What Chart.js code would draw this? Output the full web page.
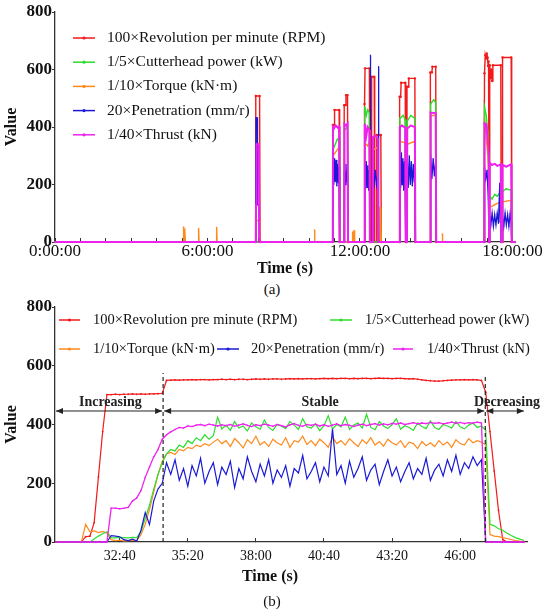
<!DOCTYPE html>
<html>
<head>
<meta charset="utf-8">
<script src="https://cdn.jsdelivr.net/npm/chart.js@4.4.1/dist/chart.umd.min.js"></script>
<style>
  body { margin: 0; background: #fff; }
  #page { position: relative; width: 550px; height: 614px; font-family: "Liberation Serif", "Times New Roman", serif; color: #111; }
  .box { position: absolute; left: 0; width: 550px; }
  .cap { position: absolute; transform: translate(-50%, -50%); white-space: nowrap; }
</style>
</head>
<body>
<div id="page">
  <div class="box" style="top:0;height:280px"><canvas id="chartA" width="550" height="280"></canvas></div>
  <div class="cap" style="left:272px;top:289px;font-size:15px">(a)</div>
  <div class="box" style="top:295px;height:300px"><canvas id="chartB" width="550" height="300"></canvas></div>
  <div class="cap" style="left:270px;top:576px;font-size:16px;font-weight:bold">Time (s)</div>
  <div class="cap" style="left:272px;top:601px;font-size:15px">(b)</div>
</div>
<script>
// ---- Panel (a): whole day, [hour, value] pairs ----
const tickHoursA = [0, 6, 12, 18];
const tickLabelsA = ['0:00:00', '6:00:00', '12:00:00', '18:00:00'];

const rpmA = [
  [0, 0], [7.88, 0], [7.9, 508], [8.05, 508], [8.07, 0],
  [10.92, 0], [10.93, 407], [10.98, 407], [11.0, 459], [11.18, 459], [11.2, 0],
  [11.37, 0], [11.38, 476], [11.43, 476], [11.45, 511], [11.51, 511], [11.53, 0],
  [12.17, 0], [12.18, 480], [12.2, 604], [12.37, 604], [12.39, 0],
  [12.45, 0], [12.46, 575], [12.56, 575], [12.58, 0],
  [12.65, 0], [12.66, 372], [12.82, 372], [12.84, 0],
  [13.55, 0], [13.56, 505], [13.6, 505], [13.62, 554], [13.78, 554], [13.8, 0],
  [13.84, 0], [13.85, 540], [13.9, 540], [13.92, 569], [14.16, 569], [14.18, 0],
  [14.76, 0], [14.77, 590], [14.83, 590], [14.85, 610], [14.98, 610], [15.0, 0],
  [16.88, 0], [16.9, 587], [16.93, 650], [16.96, 638], [16.99, 656], [17.02, 642], [17.04, 612], [17.06, 628], [17.08, 0],
  [17.1, 0], [17.11, 615], [17.14, 570], [17.17, 600], [17.2, 560], [17.23, 615], [17.54, 615], [17.56, 0],
  [17.6, 0], [17.61, 642], [17.95, 642], [17.97, 0], [18.1, 0]
];
const powerA = [
  [0, 0],
  [10.93, 0], [10.94, 320], [11.0, 335], [11.05, 345], [11.1, 355], [11.18, 365], [11.2, 0],
  [11.38, 0], [11.39, 390], [11.51, 400], [11.53, 0],
  [12.18, 0], [12.19, 470], [12.25, 440], [12.3, 460], [12.37, 450], [12.39, 0],
  [13.56, 0], [13.57, 430], [13.7, 440], [13.78, 425], [13.8, 0],
  [13.85, 0], [13.86, 420], [14.0, 440], [14.16, 430], [14.18, 0],
  [14.77, 0], [14.78, 480], [14.9, 495], [14.98, 485], [15.0, 0],
  [16.89, 0], [16.9, 470], [16.97, 440], [17.03, 380], [17.07, 250], [17.1, 160], [17.2, 150], [17.3, 165], [17.4, 160], [17.54, 175], [17.56, 0],
  [17.6, 0], [17.61, 175], [17.75, 185], [17.95, 180], [17.97, 0], [18.1, 0]
];
const torqueA = [
  [0, 0], [5.05, 0], [5.06, 52], [5.08, 0], [5.1, 0], [5.11, 45], [5.13, 0],
  [5.64, 0], [5.65, 47], [5.67, 0], [6.35, 0], [6.36, 50], [6.38, 0],
  [7.88, 0], [7.9, 75], [8.03, 75], [8.05, 0], [10.2, 0], [10.21, 42], [10.23, 0],
  [10.93, 0], [10.94, 300], [11.18, 330], [11.2, 0],
  [11.7, 0], [11.71, 35], [11.73, 0], [11.76, 0], [11.77, 40], [11.79, 0],
  [12.18, 0], [12.19, 345], [12.3, 335], [12.37, 350], [12.39, 0],
  [12.5, 0], [12.51, 320], [12.7, 330], [12.72, 0], [12.78, 0], [12.79, 120], [12.82, 80], [12.84, 0],
  [13.56, 0], [13.57, 350], [13.78, 345], [13.8, 0], [13.85, 0], [13.86, 340], [14.16, 350], [14.18, 0],
  [14.77, 0], [14.78, 440], [14.98, 440], [15.0, 0], [15.23, 0], [15.24, 28], [15.26, 0],
  [16.89, 0], [16.9, 430], [17.03, 300], [17.07, 200], [17.1, 120], [17.3, 130], [17.54, 140], [17.56, 0],
  [17.6, 0], [17.61, 140], [17.95, 145], [17.97, 0], [18.1, 0]
];
const penetrationA = [
  [0, 0], [7.9, 0], [7.91, 432], [7.96, 432], [7.97, 130], [8.02, 130], [8.04, 0],
  [10.93, 0], [10.94, 280], [10.97, 200], [11.0, 290], [11.03, 210], [11.06, 285], [11.09, 195], [11.12, 270], [11.15, 205], [11.18, 260], [11.2, 0],
  [11.38, 0], [11.39, 250], [11.42, 200], [11.45, 270], [11.48, 210], [11.51, 240], [11.53, 0],
  [12.18, 0], [12.19, 270], [12.22, 185], [12.25, 280], [12.28, 190], [12.31, 265], [12.34, 180], [12.37, 250], [12.4, 0], [12.41, 650], [12.42, 0],
  [12.5, 0], [12.51, 240], [12.55, 190], [12.6, 250], [12.65, 200], [12.7, 235], [12.72, 0], [12.73, 610], [12.74, 0],
  [13.56, 0], [13.57, 300], [13.6, 190], [13.63, 310], [13.66, 200], [13.69, 290], [13.72, 180], [13.75, 280], [13.78, 220], [13.8, 0],
  [13.85, 0], [13.86, 290], [13.9, 190], [13.94, 300], [13.98, 200], [14.02, 280], [14.06, 195], [14.1, 270], [14.14, 210], [14.16, 250], [14.18, 0],
  [14.77, 0], [14.78, 300], [14.83, 220], [14.88, 290], [14.93, 230], [14.98, 280], [15.0, 0],
  [16.89, 0], [16.9, 260], [16.95, 220], [17.0, 250], [17.05, 150], [17.08, 0],
  [17.1, 0], [17.11, 90], [17.15, 60], [17.2, 100], [17.25, 55], [17.3, 95], [17.35, 60], [17.4, 100], [17.45, 65], [17.5, 205], [17.52, 70], [17.54, 95], [17.56, 0],
  [17.6, 0], [17.61, 90], [17.66, 55], [17.71, 100], [17.76, 60], [17.81, 95], [17.86, 55], [17.91, 100], [17.95, 70], [17.97, 0], [18.1, 0]
];
const thrustA = [
  [0, 0], [7.9, 0], [7.91, 130], [7.93, 340], [8.02, 340], [8.04, 0],
  [10.93, 0], [10.94, 400], [10.98, 395], [11.05, 405], [11.12, 398], [11.18, 402], [11.2, 0],
  [11.38, 0], [11.39, 410], [11.45, 405], [11.51, 412], [11.53, 0],
  [12.18, 0], [12.19, 410], [12.25, 370], [12.3, 400], [12.37, 390], [12.39, 0],
  [12.5, 0], [12.51, 365], [12.6, 370], [12.7, 360], [12.72, 0],
  [13.56, 0], [13.57, 400], [13.65, 405], [13.78, 398], [13.8, 0],
  [13.85, 0], [13.86, 395], [14.0, 405], [14.16, 400], [14.18, 0],
  [14.77, 0], [14.78, 450], [14.98, 448], [15.0, 0],
  [16.89, 0], [16.9, 413], [16.97, 410], [17.03, 350], [17.07, 300], [17.08, 0],
  [17.1, 0], [17.11, 275], [17.2, 268], [17.3, 272], [17.4, 265], [17.54, 270], [17.56, 0],
  [17.6, 0], [17.61, 268], [17.75, 262], [17.95, 270], [17.97, 0], [18.1, 0]
];

// ---- Panel (b): one excavation cycle, seconds ----
const tickSecondsB = [1960, 2120, 2280, 2440, 2600, 2760];
const tickLabelsB = ['32:40', '35:20', '38:00', '40:40', '43:20', '46:00'];
const timeB = [
  1810, 1820, 1830, 1840, 1850, 1860, 1870, 1880, 1890, 1900,
  1910, 1920, 1930, 1940, 1950, 1960, 1970, 1980, 1990, 2000,
  2010, 2020, 2030, 2040, 2050, 2060, 2070, 2080, 2090, 2100,
  2110, 2120, 2130, 2140, 2150, 2160, 2170, 2180, 2190, 2200,
  2210, 2220, 2230, 2240, 2250, 2260, 2270, 2280, 2290, 2300,
  2310, 2320, 2330, 2340, 2350, 2360, 2370, 2380, 2390, 2400,
  2410, 2420, 2430, 2440, 2450, 2460, 2470, 2480, 2490, 2500,
  2510, 2520, 2530, 2540, 2550, 2560, 2570, 2580, 2590, 2600,
  2610, 2620, 2630, 2640, 2650, 2660, 2670, 2680, 2690, 2700,
  2710, 2720, 2730, 2740, 2750, 2760, 2770, 2780, 2790, 2800,
  2810, 2820, 2830, 2840, 2850, 2860, 2870, 2880, 2890, 2900,
  2910
];
const rpmB = [
  0, 0, 0, 0, 0, 0, 0, 18, 20, 66,
  221, 376, 502, 502, 503, 502, 503, 503, 504, 503,
  504, 503, 504, 504, 505, 506, 550, 551, 552, 551,
  552, 552, 553, 552, 553, 553, 552, 553, 553, 554,
  553, 554, 553, 554, 554, 553, 554, 555, 554, 555,
  554, 555, 555, 554, 555, 556, 555, 556, 555, 556,
  556, 555, 556, 557, 556, 557, 556, 557, 557, 556,
  557, 556, 557, 557, 556, 557, 558, 557, 557, 556,
  557, 557, 556, 555, 556, 554, 552, 550, 549, 548,
  548, 549, 550, 551, 552, 552, 553, 552, 553, 552,
  550, 510, 376, 242, 108, 8, 0, 0, 0, 0,
  0
];
const powerB = [
  0, 0, 0, 0, 0, 0, 0, 0, 0, 10,
  20, 28, 35, 15, 14, 16, 15, 14, 16, 15,
  35, 80, 125, 180, 230, 270, 300, 315, 310, 330,
  322, 345, 335, 355, 345, 365, 350, 362, 425, 385,
  398, 380, 410, 388, 395, 378, 405, 392, 384, 415,
  390, 380, 400, 395, 386, 410, 398, 383, 420, 392,
  388, 402, 379, 396, 430, 385, 400, 392, 425, 383,
  398, 405, 388, 435, 390, 382, 410, 395, 386, 400,
  420, 384, 396, 390, 380, 405, 393, 386, 412, 390,
  383, 400, 395, 388, 410, 392, 385, 398, 405, 390,
  395, 380, 60, 55, 45, 40, 30, 22, 15, 10,
  5
];
const torqueB = [
  0, 0, 0, 0, 0, 0, 0, 60, 35, 38,
  32, 36, 30, 8, 5, 6, 4, 5, 6, 5,
  25, 60, 110, 170, 230, 275, 300, 305, 298, 315,
  310, 322, 318, 330, 325, 335, 328, 340, 350, 335,
  345, 325, 352, 338, 320, 348, 335, 360, 330, 342,
  325, 350, 338, 330, 355, 322, 345, 340, 360, 332,
  345, 328, 350, 338, 322, 358, 335, 345, 330, 352,
  338, 325, 348, 335, 355, 330, 342, 326, 350, 338,
  330, 345, 322, 340, 335, 318, 342, 328, 338, 325,
  345, 330, 340, 322, 348, 335, 330, 352, 338, 345,
  340, 330, 25, 20, 18, 15, 12, 8, 5, 3,
  2
];
const penetrationB = [
  0, 0, 0, 0, 0, 0, 0, 0, 0, 0,
  0, 0, 0, 22, 20, 18, 8, 5, 10, 3,
  40, 100, 60, 140, 180, 200, 270, 230, 280, 210,
  250, 190, 260, 225, 285, 200, 240, 270, 195, 255,
  230, 275, 185, 250, 215, 290, 240, 205, 265, 225,
  280, 200, 245, 220, 260, 190, 250, 235, 295, 215,
  240, 270, 205, 255, 225, 385, 230, 260, 200, 275,
  220, 250, 290, 210, 245, 265, 195, 240, 280, 225,
  255, 205, 240, 270, 215, 250, 230, 285, 210, 245,
  265, 225, 280, 240, 295, 230, 270, 250, 290, 260,
  280, 0, 0, 0, 0, 0, 0, 0, 0, 0,
  0
];
const thrustB = [
  0, 0, 0, 0, 0, 0, 0, 0, 0, 0,
  0, 0, 0, 115, 115, 113, 115, 118, 140, 150,
  175, 220, 255, 290, 315, 350, 365, 375, 383, 390,
  388, 395, 393, 398, 400, 396, 401, 398, 395, 399,
  396, 400, 394, 398, 402, 397, 393, 399, 396, 401,
  398, 394, 400, 396, 392, 399, 403, 397, 394, 400,
  397, 401, 395, 399, 394, 398, 402, 396, 400, 397,
  393, 398, 401, 396, 400, 403, 398, 402, 399, 404,
  401, 405, 400, 403, 406, 402, 405, 403, 407, 404,
  406, 402, 405, 408, 404, 407, 403, 406, 405, 408,
  405, 0, 0, 0, 0, 0, 0, 0, 0, 0,
  0
];

// phase annotation of panel (b)
const phaseEdges = [2062, 2819];
const phaseTops = [575, 565];
const phaseArrowLevel = 446;
const phaseArrowEnd = 2912;
const phaseNames = ['Increasing', 'Stable', 'Decreasing'];
const phaseNameTimes = [1938, 2431, 2870];

const SERIF = '"Liberation Serif", "Times New Roman", serif';
Chart.defaults.font.family = SERIF;
Chart.defaults.color = '#111';
Chart.defaults.animation = false;

const RED = '#f21a1a', GREEN = '#2fdc2f', ORANGE = '#ff8a1c', BLUE = '#1a1ad6', MAGENTA = '#ee22ee';

// legend drawn inside the plot, at fixed spots
const insideLegend = {
  id: 'insideLegend',
  afterDraw(chart, args, opts) {
    const ctx = chart.ctx;
    ctx.save();
    ctx.font = `${opts.size}px ${SERIF}`;
    ctx.textBaseline = 'middle';
    opts.items.forEach(it => {
      const ds = chart.data.datasets[it.ds];
      ctx.strokeStyle = ds.borderColor;
      ctx.lineWidth = 1.5;
      ctx.beginPath();
      ctx.moveTo(it.x, it.y);
      ctx.lineTo(it.x + it.len, it.y);
      ctx.stroke();
      ctx.fillStyle = ds.borderColor;
      ctx.beginPath();
      ctx.arc(it.x + it.len / 2, it.y, 1.6, 0, Math.PI * 2);
      ctx.fill();
      ctx.fillStyle = '#111';
      ctx.fillText(ds.label, it.textX, it.y);
    });
    ctx.restore();
  }
};

function arrowHead(ctx, px, py, dir) {
  ctx.beginPath();
  ctx.moveTo(px, py);
  ctx.lineTo(px - dir * 7, py - 3);
  ctx.lineTo(px - dir * 7, py + 3);
  ctx.closePath();
  ctx.fill();
}

const phasePlugin = {
  id: 'phases',
  afterDatasetsDraw(chart) {
    const { ctx, chartArea, scales: { x, y } } = chart;
    const ay = y.getPixelForValue(phaseArrowLevel);
    ctx.save();
    ctx.strokeStyle = '#222';
    ctx.fillStyle = '#222';
    ctx.lineWidth = 1.2;
    ctx.setLineDash([4, 3]);
    phaseEdges.forEach((t, i) => {
      const px = x.getPixelForValue(t);
      ctx.beginPath();
      ctx.moveTo(px, y.getPixelForValue(0));
      ctx.lineTo(px, y.getPixelForValue(phaseTops[i]));
      ctx.stroke();
    });
    ctx.setLineDash([]);
    ctx.lineWidth = 1;
    const ends = [chartArea.left, x.getPixelForValue(phaseEdges[0]), x.getPixelForValue(phaseEdges[1]), x.getPixelForValue(phaseArrowEnd)];
    for (let i = 0; i < 3; i++) {
      const a = ends[i] + 1, b = ends[i + 1] - 1;
      ctx.beginPath();
      ctx.moveTo(a, ay);
      ctx.lineTo(b, ay);
      ctx.stroke();
      arrowHead(ctx, a, ay, -1);
      arrowHead(ctx, b, ay, 1);
    }
    ctx.font = `bold 14px ${SERIF}`;
    ctx.textAlign = 'center';
    ctx.textBaseline = 'alphabetic';
    phaseNames.forEach((n, i) => ctx.fillText(n, x.getPixelForValue(phaseNameTimes[i]), ay - 5));
    ctx.restore();
  }
};

function series(label, color, data, order, radius, width) {
  return {
    label, data, order,
    borderColor: color, backgroundColor: color, pointBackgroundColor: color,
    pointBorderWidth: 0, pointRadius: radius, pointHoverRadius: 0,
    borderWidth: width, tension: 0, clip: 3
  };
}
const pairs = arr => arr.map(([x, y]) => ({ x, y }));
const alongB = arr => arr.map((y, i) => ({ x: timeB[i], y }));

function valueAxis() {
  return {
    min: 0, max: 800,
    afterFit: s => { s.width = 55; },
    ticks: { stepSize: 200, padding: 0, font: { size: 17, weight: 'bold' } },
    grid: { drawOnChartArea: false, tickLength: 3, color: '#333' },
    border: { color: '#333', width: 1.3 },
    title: { display: true, text: 'Value', font: { size: 16, weight: 'bold' }, padding: { top: 2, bottom: 0 } }
  };
}

new Chart(document.getElementById('chartA'), {
  type: 'line',
  data: {
    datasets: [
      series('100×Revolution per minute (RPM)', RED, pairs(rpmA), 5, 1.2, 1.4),
      series('1/5×Cutterhead power (kW)', GREEN, pairs(powerA), 3, 0.8, 1.4),
      series('1/10×Torque (kN·m)', ORANGE, pairs(torqueA), 4, 0.8, 1.4),
      series('20×Penetration (mm/r)', BLUE, pairs(penetrationA), 2, 0.6, 1.3),
      series('1/40×Thrust (kN)', MAGENTA, pairs(thrustA), 1, 0.8, 2)
    ]
  },
  plugins: [insideLegend],
  options: {
    responsive: false,
    events: [],
    layout: { padding: { left: 0, right: 35, top: 12, bottom: 2 } },
    plugins: {
      legend: { display: false },
      tooltip: { enabled: false },
      insideLegend: {
        size: 15.5,
        items: [0, 1, 2, 3, 4].map(i => ({ ds: i, x: 73, len: 22, textX: 107, y: 38 + i * 24.2 }))
      }
    },
    scales: {
      x: {
        type: 'linear', min: 0, max: 18.1,
        afterFit: s => { s.height = 36; },
        ticks: {
          stepSize: 1, includeBounds: false, autoSkip: false, maxRotation: 0, padding: 3,
          font: { size: 17 },
          callback: v => { const k = tickHoursA.indexOf(v); return k >= 0 ? tickLabelsA[k] : ''; }
        },
        grid: { drawOnChartArea: false, tickLength: -4, color: '#333' },
        border: { color: '#333', width: 1.3 },
        title: { display: true, text: 'Time (s)', font: { size: 16, weight: 'bold' }, padding: { top: 0, bottom: 0 } }
      },
      y: valueAxis()
    }
  }
});

new Chart(document.getElementById('chartB'), {
  type: 'line',
  data: {
    datasets: [
      series('100×Revolution pre minute (RPM)', RED, alongB(rpmB), 5, 0.9, 1.2),
      series('1/5×Cutterhead power (kW)', GREEN, alongB(powerB), 3, 0, 1.2),
      series('1/10×Torque (kN·m)', ORANGE, alongB(torqueB), 4, 0, 1.2),
      series('20×Penetration (mm/r)', BLUE, alongB(penetrationB), 2, 0, 1.2),
      series('1/40×Thrust (kN)', MAGENTA, alongB(thrustB), 1, 0.8, 1.3)
    ]
  },
  plugins: [insideLegend, phasePlugin],
  options: {
    responsive: false,
    events: [],
    layout: { padding: { left: 0, right: 23, top: 12, bottom: 23 } },
    plugins: {
      legend: { display: false },
      tooltip: { enabled: false },
      insideLegend: {
        size: 14.5,
        items: [
          { ds: 0, x: 59, len: 21, textX: 93, y: 25 },
          { ds: 1, x: 330, len: 22, textX: 365, y: 25 },
          { ds: 2, x: 59, len: 21, textX: 93, y: 54 },
          { ds: 3, x: 217, len: 22, textX: 251, y: 54 },
          { ds: 4, x: 393, len: 20, textX: 427, y: 54 }
        ]
      }
    },
    scales: {
      x: {
        type: 'linear', min: 1808, max: 2917,
        afterFit: s => { s.height = 30; },
        afterBuildTicks: s => { s.ticks = tickSecondsB.map(v => ({ value: v })); },
        ticks: {
          autoSkip: false, maxRotation: 0, padding: 10,
          font: { size: 14 },
          callback: v => { const k = tickSecondsB.indexOf(v); return k >= 0 ? tickLabelsB[k] : ''; }
        },
        grid: { drawOnChartArea: false, tickLength: -4, color: '#333' },
        border: { color: '#333', width: 1.2, dash: [2, 2] }
      },
      y: valueAxis()
    }
  }
});
</script>
</body>
</html>
